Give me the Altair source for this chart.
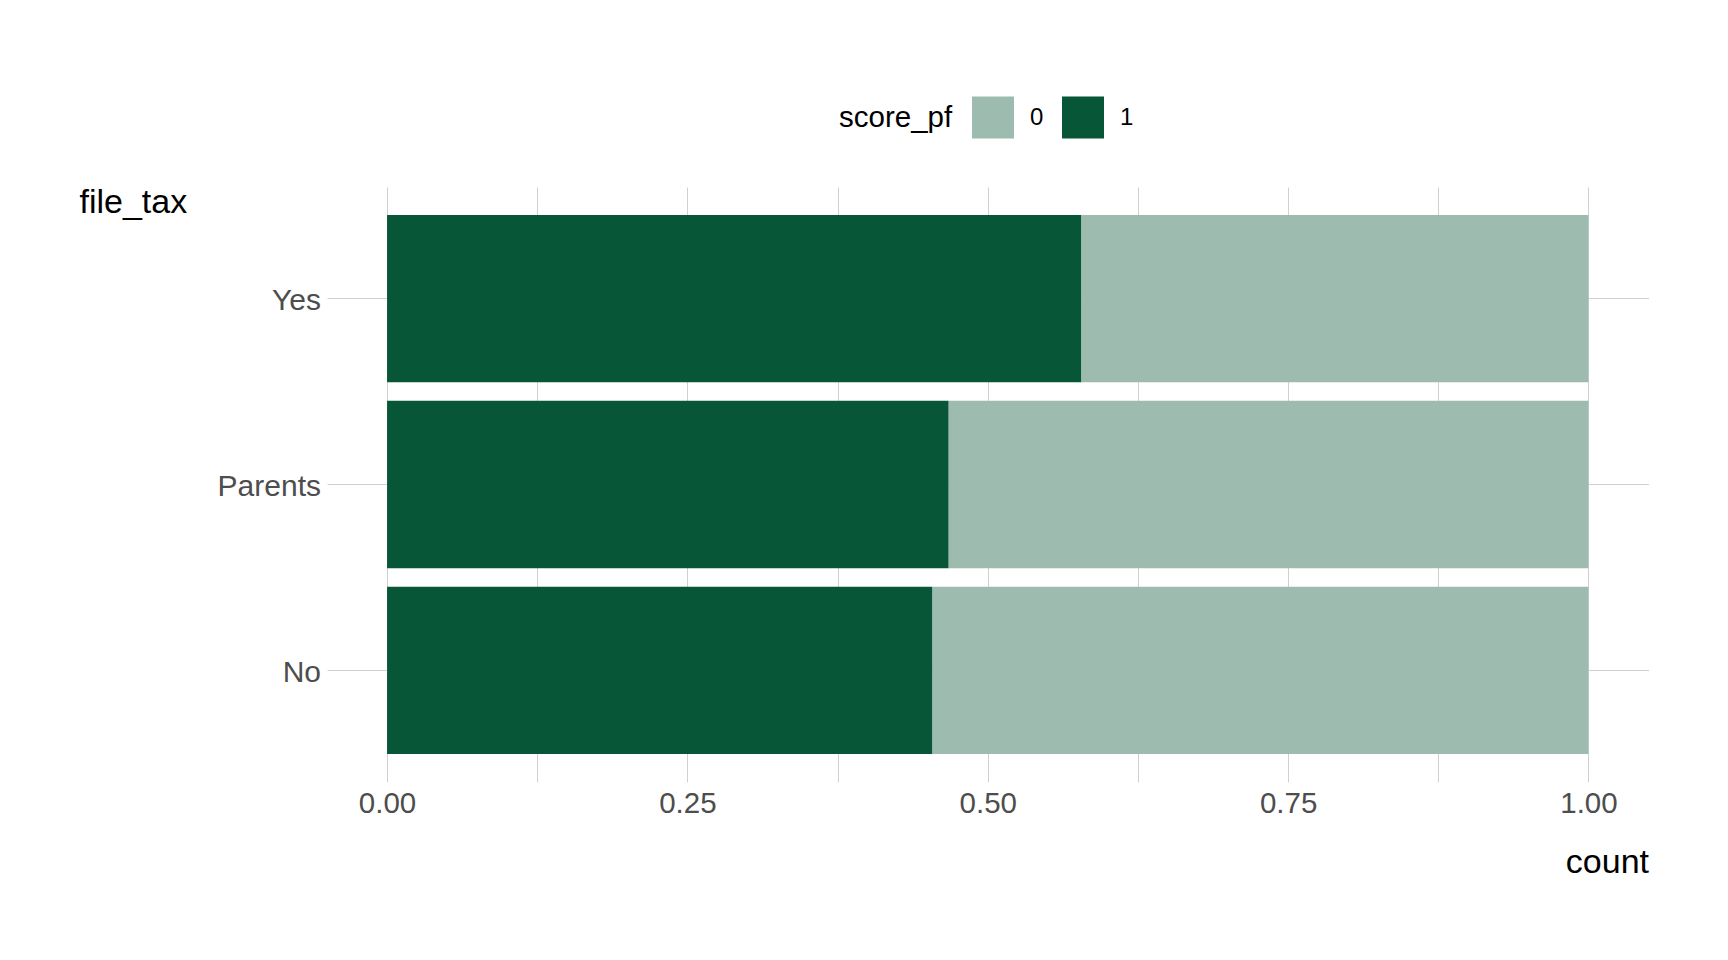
import altair as alt
import pandas as pd

file_tax = ["Yes", "Parents", "No"]
share_pass = [0.578, 0.4675, 0.454]   # score_pf = 1
share_fail = [0.422, 0.5325, 0.546]   # score_pf = 0
score_levels = ["0", "1"]
score_colors = ["#9DBBAE", "#085638"]
x_ticks = [0, 0.125, 0.25, 0.375, 0.5, 0.625, 0.75, 0.875, 1.0]

rows = []
for cat, p, f in zip(file_tax, share_pass, share_fail):
    rows.append({"file_tax": cat, "score_pf": "1", "count": p, "ord": 0})
    rows.append({"file_tax": cat, "score_pf": "0", "count": f, "ord": 1})
df = pd.DataFrame(rows)

FONT = "Liberation Sans"

chart = alt.Chart(df).mark_bar().encode(
    x=alt.X(
        "count:Q",
        stack="zero",
        scale=alt.Scale(domain=[-0.05, 1.05], nice=False, zero=False),
        axis=alt.Axis(
            values=x_ticks,
            labelExpr="(datum.value * 4) % 1 == 0 ? format(datum.value, '.2f') : ''",
            title="count",
            titleFontSize=34,
            titleFontWeight="normal",
            titleColor="#000000",
            titleAnchor="end",
            titleAlign="right",
            titleBaseline="alphabetic",
            titleX=1321.5,
            titleY=90.6,
            labelFontSize=29.5,
            labelColor="#4D4D4D",
            labelBaseline="alphabetic",
            labelPadding=30.6,
            ticks=False,
            tickSize=0,
            domain=False,
            grid=True,
            gridColor="#D0D0D0",
            gridWidth=1,
            labelFlush=False,
        ),
    ),
    y=alt.Y(
        "file_tax:N",
        sort=file_tax,
        scale=alt.Scale(paddingInner=0.1, paddingOuter=0.15),
        axis=alt.Axis(
            title="file_tax",
            titleFontSize=34,
            titleFontWeight="normal",
            titleColor="#000000",
            titleAngle=0,
            titleAlign="left",
            titleBaseline="alphabetic",
            titleX=-248,
            titleY=25.7,
            labelFontSize=30,
            labelColor="#4D4D4D",
            labelPadding=6.5,
            labelBaseline="middle",
            labelOffset=2.5,
            ticks=False,
            tickSize=0,
            domain=False,
            grid=True,
            gridColor="#D0D0D0",
            gridWidth=1,
        ),
    ),
    color=alt.Color(
        "score_pf:N",
        scale=alt.Scale(domain=score_levels, range=score_colors),
        legend=alt.Legend(
            title="score_pf",
            orient="none",
            direction="horizontal",
            legendX=512,
            legendY=-90.5,
            titleOrient="left",
            titleFontSize=29.5,
            titleFontWeight="normal",
            titleColor="#000000",
            titleBaseline="middle",
            titlePadding=19,
            labelFontSize=24,
            labelColor="#000000",
            labelOffset=16,
            columnPadding=18,
            symbolType="square",
            symbolSize=1764,
            symbolStrokeWidth=0,
            symbolOpacity=1,
        ),
    ),
    order=alt.Order("ord:Q"),
).properties(
    width=1321.5,
    height=595,
    autosize=alt.AutoSizeParams(type="none"),
    padding={"left": 319, "top": 179, "right": 64, "bottom": 150},
).configure(
    font=FONT,
).configure_view(
    strokeWidth=0,
)

chart.save("out.html", embed_options={"renderer": "svg", "actions": False})
